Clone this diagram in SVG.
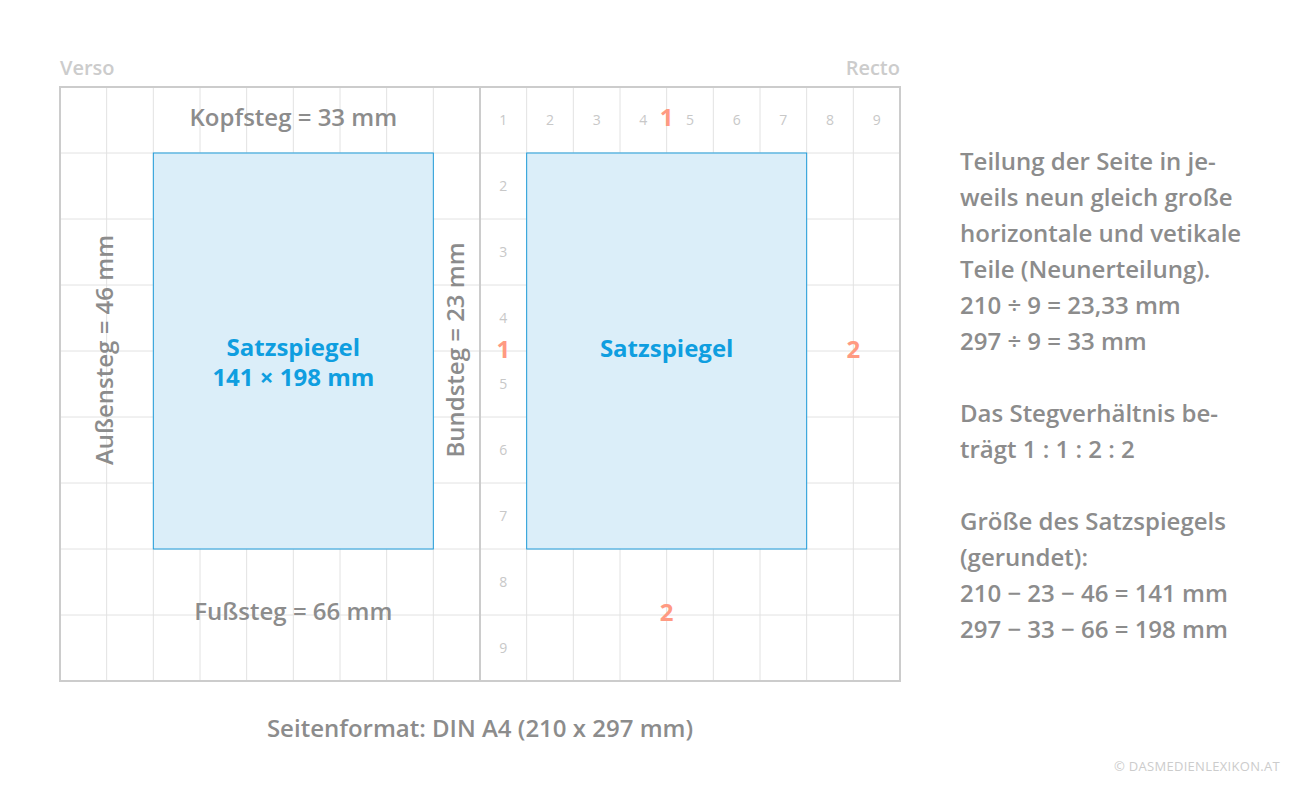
<svg xmlns="http://www.w3.org/2000/svg" width="1310" height="790" viewBox="0 0 1310 790">
<style>
text{font-family:"Open Sans","Noto Sans","Liberation Sans",sans-serif}
.g{stroke:#e2e2e2;stroke-width:1;fill:none}
.frame{stroke:#cccccc;stroke-width:2;fill:none}
.box{fill:#dbeef9;stroke:#1f9bd9;stroke-width:1}
.lbl{font-size:24px;font-weight:600;fill:#8c8c8c}
.blue{font-size:24px;font-weight:700;fill:#0f9ee0}
.red{font-size:24px;font-weight:700;fill:#ff9a82}
.num{font-size:14px;fill:#c8c8c8}
.side{font-size:20px;font-weight:600;fill:#cccccc}
.info{font-size:24px;font-weight:600;fill:#8c8c8c}
</style>
<rect width="1310" height="790" fill="#ffffff"/>
<g id="grid">
<path class="g" d="M106.67 87V681M153.33 87V681M200 87V681M246.67 87V681M293.33 87V681M340 87V681M386.67 87V681M433.33 87V681M526.67 87V681M573.33 87V681M620 87V681M666.67 87V681M713.33 87V681M760 87V681M806.67 87V681M853.33 87V681"/>
<path class="g" d="M60 153H900M60 219H900M60 285H900M60 351H900M60 417H900M60 483H900M60 549H900M60 615H900"/>
</g>
<g id="verso-satzspiegel">
<rect class="box" x="153.33" y="153" width="280" height="396"/>
<text class="blue" x="293.33" y="356" text-anchor="middle">Satzspiegel</text>
<text class="blue" x="293.33" y="386" text-anchor="middle">141 × 198 mm</text>
</g>
<g id="recto-satzspiegel">
<rect class="box" x="526.67" y="153" width="280" height="396"/>
<text class="blue" x="666.67" y="357" text-anchor="middle">Satzspiegel</text>
</g>
<g id="frame">
<rect class="frame" x="60" y="87" width="840" height="594"/>
<path class="frame" d="M480 87V681"/>
</g>
<g id="labels">
<text class="side" x="60" y="75">Verso</text>
<text class="side" x="900" y="75" text-anchor="end">Recto</text>
<text class="lbl" x="293.33" y="126" text-anchor="middle">Kopfsteg = 33 mm</text>
<text class="lbl" x="293.33" y="620" text-anchor="middle">Fußsteg = 66 mm</text>
<text class="lbl" transform="translate(113 350) rotate(-90)" text-anchor="middle">Außensteg = 46 mm</text>
<text class="lbl" transform="translate(464 350) rotate(-90)" text-anchor="middle">Bundsteg = 23 mm</text>
<text class="lbl" x="480" y="737" text-anchor="middle">Seitenformat: DIN A4 (210 x 297 mm)</text>
</g>
<g id="numbers" class="num" text-anchor="middle">
<text x="503.33" y="125">1</text>
<text x="550" y="125">2</text>
<text x="596.67" y="125">3</text>
<text x="643.33" y="125">4</text>
<text x="690" y="125">5</text>
<text x="736.67" y="125">6</text>
<text x="783.33" y="125">7</text>
<text x="830" y="125">8</text>
<text x="876.67" y="125">9</text>
<text x="503.33" y="191">2</text>
<text x="503.33" y="257">3</text>
<text x="503.33" y="323">4</text>
<text x="503.33" y="389">5</text>
<text x="503.33" y="455">6</text>
<text x="503.33" y="521">7</text>
<text x="503.33" y="587">8</text>
<text x="503.33" y="653">9</text>
</g>
<g id="ratio-marks" text-anchor="middle">
<text class="red" x="666.67" y="126">1</text>
<text class="red" x="503.33" y="358">1</text>
<text class="red" x="853.33" y="358">2</text>
<text class="red" x="666.67" y="621">2</text>
</g>
<g id="info">
<text class="info" x="960" y="170">Teilung der Seite in je-</text>
<text class="info" x="960" y="206">weils neun gleich große</text>
<text class="info" x="960" y="242">horizontale und vetikale</text>
<text class="info" x="960" y="278">Teile (Neunerteilung).</text>
<text class="info" x="960" y="314">210 ÷ 9 = 23,33 mm</text>
<text class="info" x="960" y="350">297 ÷ 9 = 33 mm</text>
<text class="info" x="960" y="422">Das Stegverhältnis be-</text>
<text class="info" x="960" y="458">trägt 1 : 1 : 2 : 2</text>
<text class="info" x="960" y="530">Größe des Satzspiegels</text>
<text class="info" x="960" y="566">(gerundet):</text>
<text class="info" x="960" y="602">210 − 23 − 46 = 141 mm</text>
<text class="info" x="960" y="638">297 − 33 − 66 = 198 mm</text>
</g>
<text x="1280" y="771" text-anchor="end" style="font-size:13px;fill:#cccccc;letter-spacing:0.3px">© DASMEDIENLEXIKON.AT</text>
</svg>
